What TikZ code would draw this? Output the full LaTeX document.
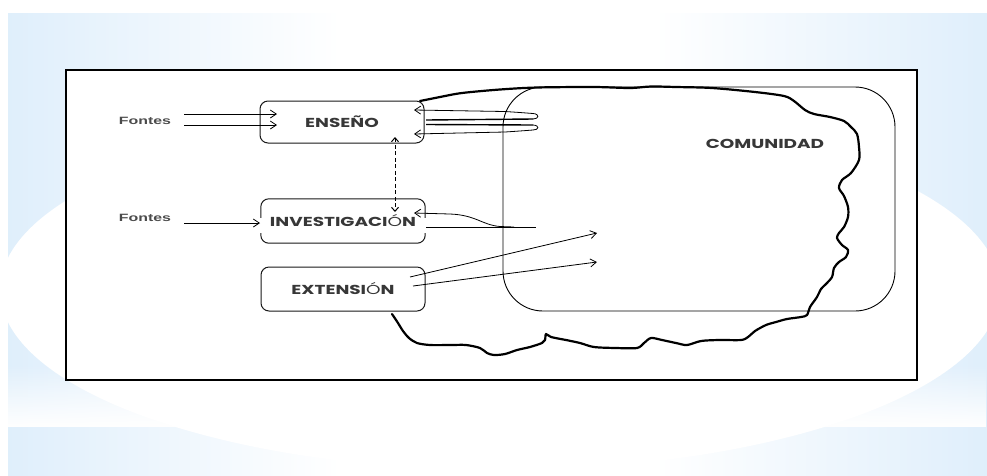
\documentclass[tikz,border=0pt]{standalone}
\usepackage{fontspec}
\usetikzlibrary{arrows.meta,fadings,calc}
\newfontfamily\lblfont[FakeStretch=1.5]{Liberation Sans}
\newfontfamily\ttlfont[FakeStretch=1.42]{Poppins}
\definecolor{bgblue}{RGB}{195,224,248}
\definecolor{txtgray}{RGB}{55,55,55}
\definecolor{lblgray}{RGB}{75,75,75}
\pgfdeclarehorizontalshading{bghoriz}{100bp}{color(0bp)=(bgblue); color(18bp)=(bgblue!75!white); color(42bp)=(white); color(58bp)=(white); color(82bp)=(bgblue!75!white); color(100bp)=(bgblue)}
\begin{document}
\begin{tikzpicture}[x=1pt,y=-1pt,
  boxline/.style={draw=black!90, line width=1pt, rounded corners=8pt},
  ttl/.style={font=\ttlfont\bfseries\fontsize{13}{15}\selectfont, text=txtgray},
  lbl/.style={font=\lblfont\bfseries\fontsize{10.6}{12}\selectfont, text=lblgray},
  conn/.style={line width=0.8pt, draw=black},
  arr/.style={conn, -{Straight Barb[length=6pt,width=8pt]}},
  dblarr/.style={line width=1pt, draw=black, dash pattern=on 4pt off 2.5pt, {Straight Barb[length=4pt,width=7pt]}-{Straight Barb[length=4pt,width=7pt]}},
  cloudline/.style={line width=2.2pt, draw=black, line join=round, line cap=round},
]
\useasboundingbox (0,0) rectangle (987,475);
% ---- background ----
\shade[shading=bghoriz] (8,13) rectangle (987,427);
\shade[shading=bghoriz] (8,427) rectangle (987,475);
\fill[white, path fading=north] (8,365) rectangle (987,427);
\begin{scope}
  \clip (8,13) rectangle (987,475);
  \fill[white] (500,290) ellipse [x radius=500, y radius=180];
\end{scope}
% ---- frame ----
\draw[line width=2.2pt, fill=white] (66,70) rectangle (917,380);
% ---- community ----
\node[draw=black, line width=0.9pt, rounded corners=40pt, minimum width=392pt, minimum height=224pt, inner sep=0pt] (com) at (699,199) {};
\node[ttl] (comlbl) at (765,144) {COMUNIDAD};
% ---- irregular outline ----
\draw[cloudline] plot[smooth, tension=0.5] coordinates {
 (420,101) (440,97) (462,93) (500,89.5) (537,87.5) (594,87) (630,88) (651,86.5) (676,87)
 (712,88) (755,92) (784,96) (794,101) (805,110) (814,114) (830,117) (844,121) (851,127)
 (857,134) (859,147) (859,160) (851,173) (842,180) (839,188) (844,196) (848,207) (848,217)
 (844,227) (839,233) (837,238) (842,245) (848,250) (846,257) (839,262) (834,268) (832,277)
 (826,284) (821,289) (817,297) (810,307) (807,315) (801,317) (787,319) (776,322) (766,325)
 (755,331) (748,337) (741,340) (719,340) (701,341) (687,345) (676,343) (662,340) (651,338)
 (644,343) (637,348) (616,348) (594,347) (580,343) (566,340) (551,337) (546,334) (545,340)
 (542,343) (530,347) (517,350) (505,354) (494,355) (487,353) (480,348) (466,345) (451,345)
 (430,345) (417,343) (409,338) (403,331) (398,323) (392,314)};
% ---- boxes ----
\node[boxline, minimum width=164pt, minimum height=42pt, inner sep=0pt, ttl] (ens) at (342,122) {ENSEÑO};
\node[minimum width=164pt, minimum height=44pt, inner sep=0pt, ttl] (inv) at (343,221) {INVESTIGACI{\mdseries Ó}N};
\draw[boxline] ($(inv.north west)+(0,19)$) -- (inv.north west) -- (inv.north east) -- ($(inv.north east)+(0,19)$);
\draw[boxline] ($(inv.south west)+(0,-10)$) -- (inv.south west) -- (inv.south east) -- ($(inv.south east)+(0,-10)$);
\node[boxline, minimum width=164pt, minimum height=44pt, inner sep=0pt, ttl] (ext) at (343,289) {EXTENSI{\mdseries Ó}N};
% ---- Fontes ----
\node[lbl] (f1) at (145,121) {Fontes};
\node[lbl] (f2) at (145,218) {Fontes};
\coordinate (f1a) at (184,114); \coordinate (f1ae) at (277,114);
\coordinate (f1b) at (184,125); \coordinate (f1be) at (277,125);
\coordinate (f2a) at (184,223); \coordinate (f2ae) at (260,223);
\draw[arr] (f1a) -- (f1ae);
\draw[arr] (f1b) -- (f1be);
\draw[arr] (f2a) -- (f2ae);
% ---- loops between ENSEÑO and community ----
\coordinate (la0) at (426,120); \coordinate (la1) at (533,119);
\coordinate (lae) at (414,110);
\coordinate (lb0) at (426,124.5); \coordinate (lb1) at (533,125);
\coordinate (lbe) at (414,134);
\draw[line width=1.4pt] (la0) -- (la1);
\draw[arr] (la1) .. controls (539,119) and (540,114) .. (533,113.5) .. controls (520,112.5) .. (505,111.5) -- (lae);
\draw[line width=1.4pt] (lb0) -- (lb1);
\draw[arr] (lb1) .. controls (540,125.5) and (539,130) .. (533,130) .. controls (520,131) .. (505,132) -- (lbe);
% ---- dashed link ----
\coordinate (d1) at (395,137); \coordinate (d2) at (395,212);
\draw[dblarr] (d1) -- (d2);
% ---- INVESTIGACION links ----
\coordinate (ia0) at (426,227); \coordinate (ia1) at (536,227);
\coordinate (ib0) at (514,227); \coordinate (ibe) at (414,213);
\draw[conn] (ia0) -- (ia1);
\draw[arr] (ib0) -- (500,226.5) .. controls (482,225) and (476,215) .. (450,214) -- (ibe);
% ---- EXTENSION arrows ----
\coordinate (ea0) at (410,277); \coordinate (eae) at (597,233);
\coordinate (eb0) at (413,286); \coordinate (ebe) at (597,262);
\draw[arr] (ea0) -- (eae);
\draw[arr] (eb0) -- (ebe);
\end{tikzpicture}
\end{document}
